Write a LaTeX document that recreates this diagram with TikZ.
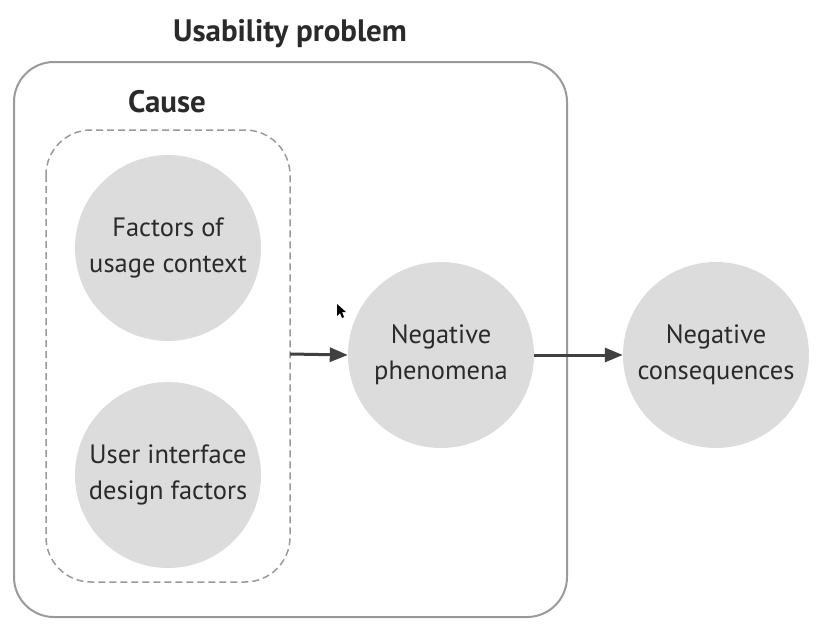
\documentclass[tikz,border=0pt]{standalone}
\usepackage{fontspec}
\setmainfont{PT Sans}
\usetikzlibrary{arrows.meta}
\definecolor{txt}{HTML}{2A2A2A}
\definecolor{circ}{HTML}{DCDCDC}
\definecolor{frame}{HTML}{9A9A9A}
\definecolor{arr}{HTML}{404040}
\tikzset{
  bubble/.style={circle, fill=circ, minimum size=186pt, inner sep=0pt, align=center, font=\fontsize{26.5}{36}\selectfont, text=txt},
  heading/.style={font=\fontsize{31}{34}\selectfont\bfseries, text=txt},
  flow/.style={draw=arr, line width=3pt, -{Triangle[length=18pt,width=14pt]}}
}
\begin{document}
\begin{tikzpicture}[x=1pt,y=-1pt]
\useasboundingbox (0,0) rectangle (829,643);
\draw[frame, line width=2pt, rounded corners=40pt] (14,62) rectangle (567,617);
\draw[frame, line width=1.5pt, dashed, dash pattern=on 7pt off 4pt, rounded corners=45pt] (46,130) rectangle (290,582);
\node[heading] (title) at (290,34) {Usability problem};
\node[heading] (cause) at (167,102) {Cause};
\node[bubble] (ctx) at (168,248) {Factors of\\usage context};
\node[bubble] (ui) at (168,475) {User interface\\design factors};
\node[bubble] (neg) at (441,355) {Negative\\phenomena};
\node[bubble] (cons) at (716,355) {Negative\\consequences};
\coordinate (causeedge) at (290,354);
\draw[flow] (causeedge) -- (neg.west);
\draw[flow] (neg.east) -- (cons.west);
\fill[black] (337,304) -- (337,316) -- (340,313) -- (342,318) -- (344,317) -- (342,312) -- (346,312) -- cycle;
\end{tikzpicture}
\end{document}
